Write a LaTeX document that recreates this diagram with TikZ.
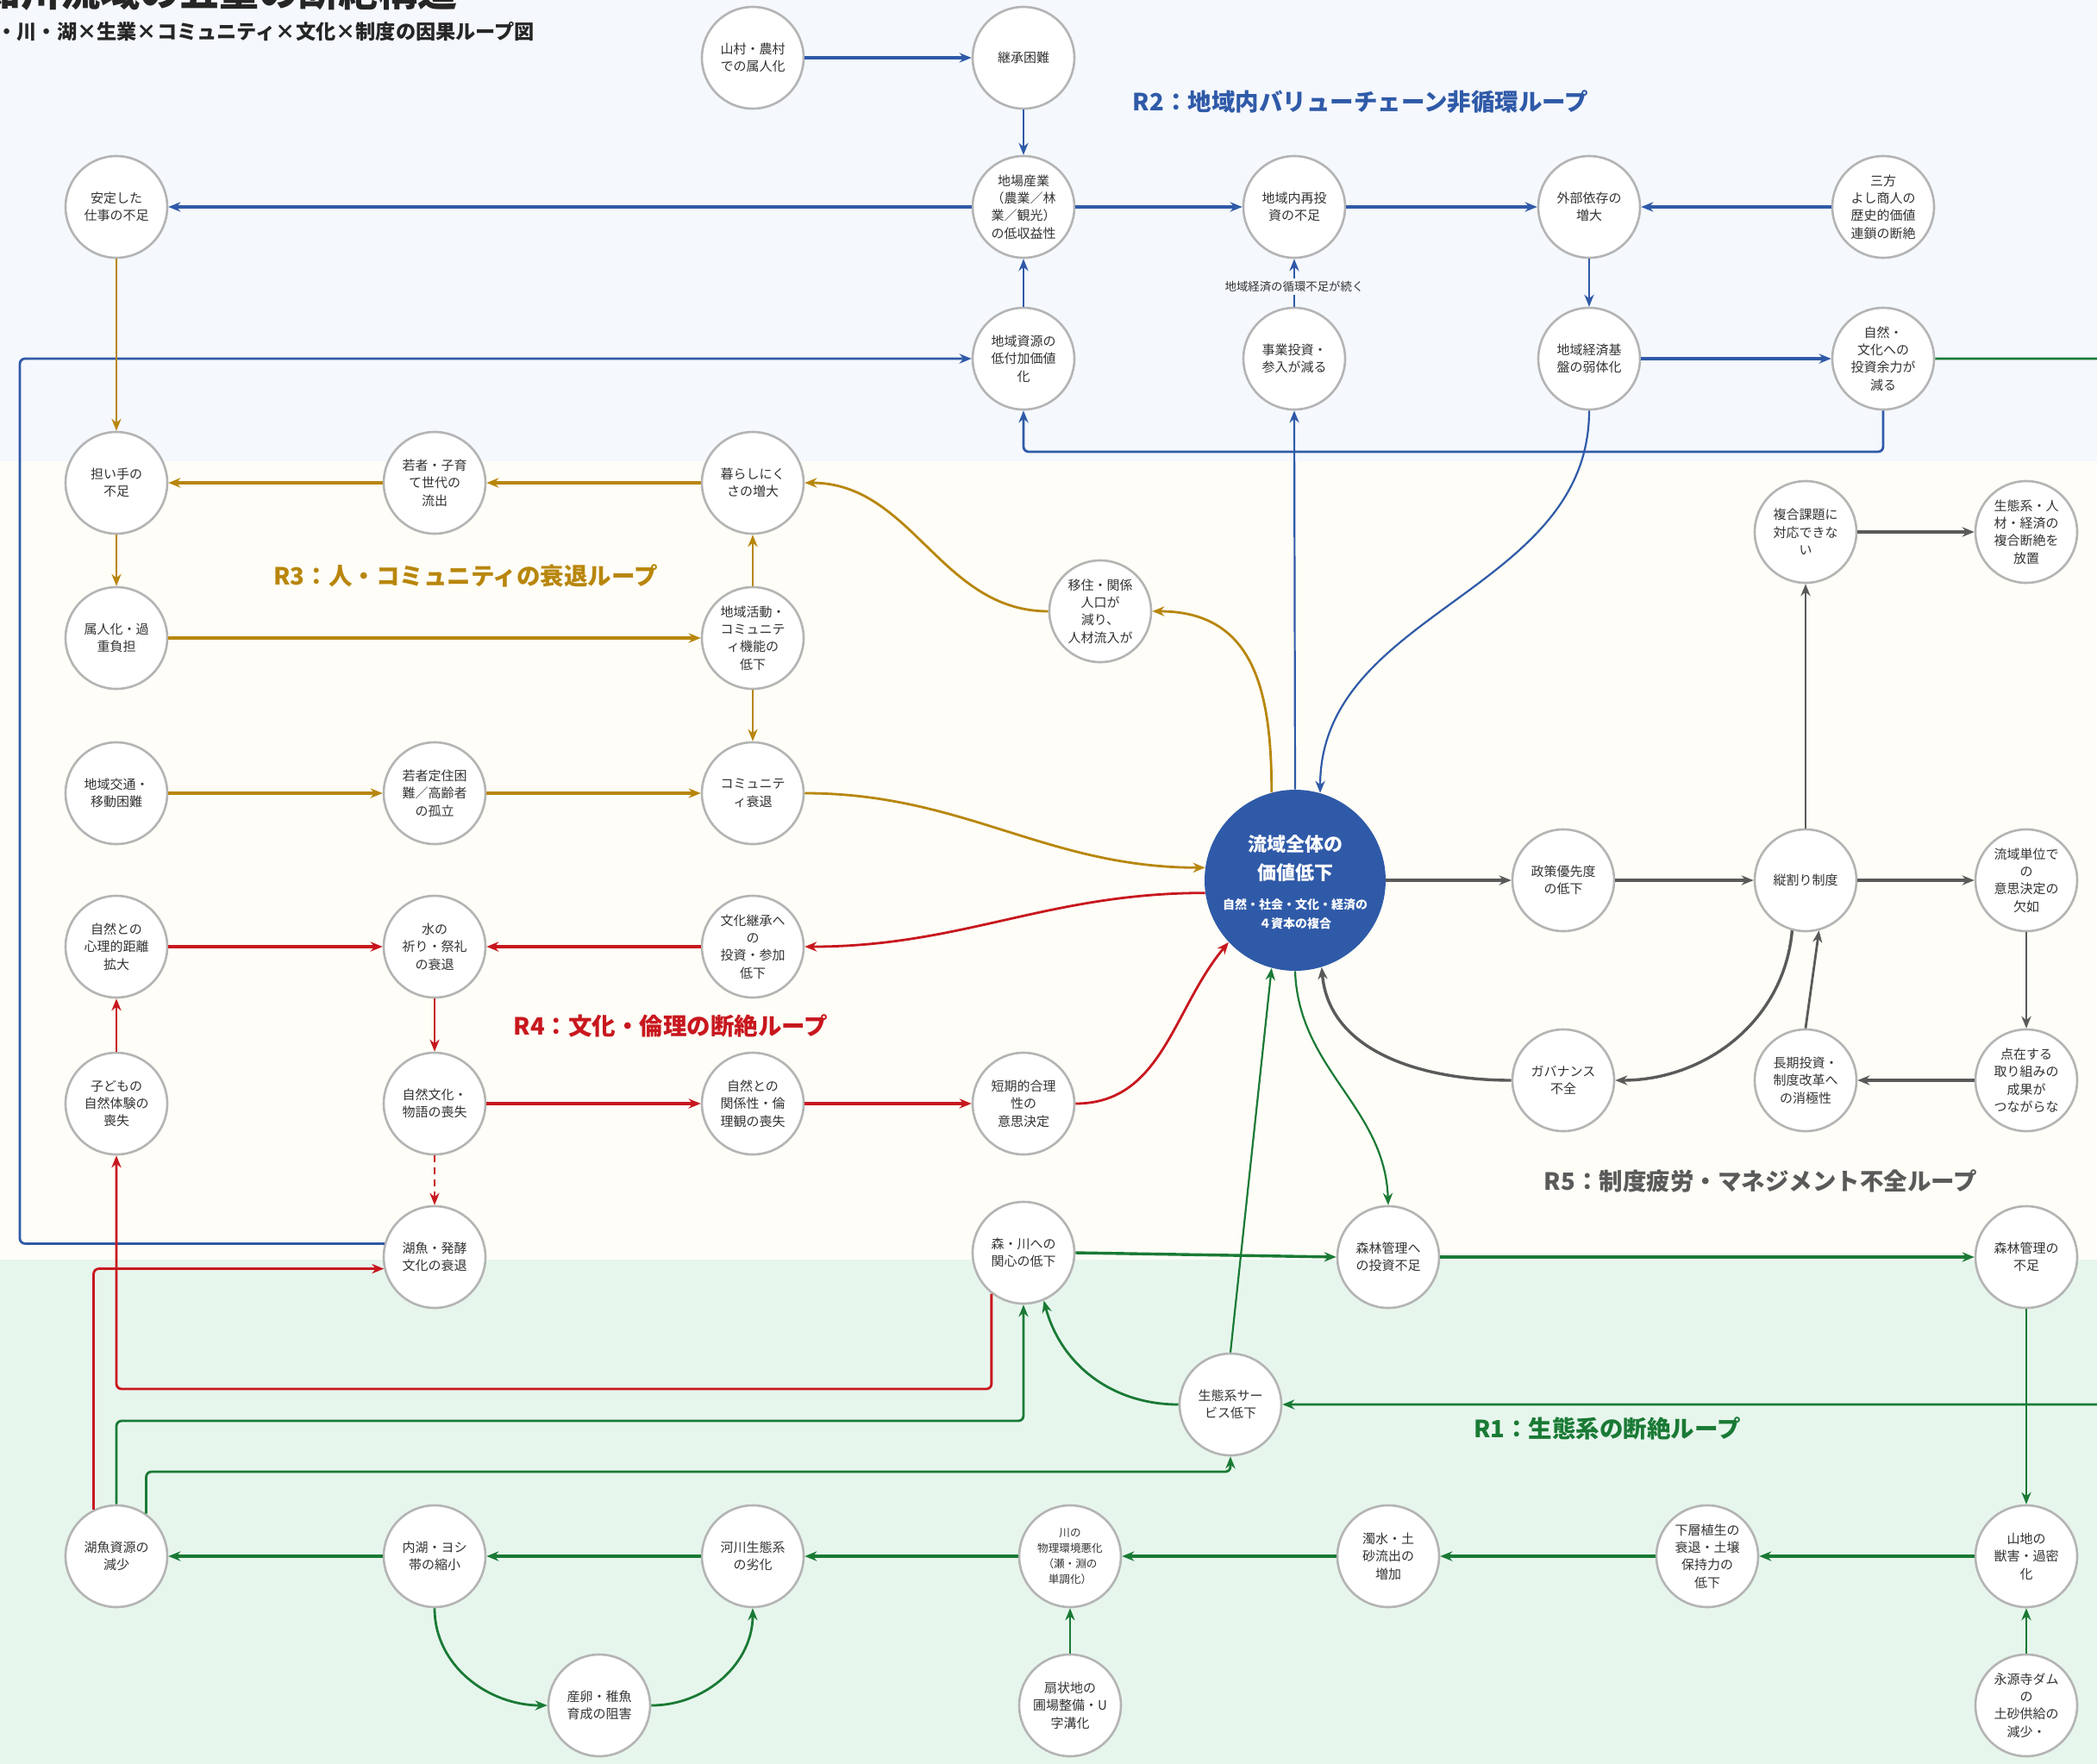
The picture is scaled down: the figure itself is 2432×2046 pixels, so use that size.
\documentclass[tikz,border=0pt]{standalone}
\usepackage{fontspec}
\setmainfont{Noto Sans CJK JP}
\usetikzlibrary{arrows.meta}
\definecolor{bgtop}{HTML}{F5F8FD}
\definecolor{bgmid}{HTML}{FEFDF7}
\definecolor{bgbot}{HTML}{E7F6ED}
\definecolor{cblue}{HTML}{2F5AA8}
\definecolor{cgold}{HTML}{B8860B}
\definecolor{cred}{HTML}{C8171E}
\definecolor{cgray}{HTML}{5A5A5A}
\definecolor{cgreen}{HTML}{1A7A35}
\definecolor{ndborder}{HTML}{B4B4B4}
\definecolor{ndtext}{HTML}{333333}
\begin{document}
\begin{tikzpicture}[x=0.5pt,y=0.5pt,
  >={Stealth[length=7pt,width=5.6pt]},
  nd/.style={circle, draw=ndborder, line width=1.3pt, fill=white, minimum size=59pt, inner sep=-10pt, align=center, text=ndtext, font=\fontsize{7.5pt}{10.2pt}\selectfont},
  smnd/.style={nd, font=\fontsize{6.3pt}{9pt}\selectfont},
  ln/.style={->, line width=1.1pt},
  lnm/.style={->, line width=1.4pt},
  lnt/.style={->, line width=1.7pt},
  lnx/.style={->, line width=2.4pt},
  loopl/.style={font=\fontsize{13.75pt}{16pt}\selectfont\bfseries},
  rc/.style={rounded corners=3pt}
]
\useasboundingbox (0,0) rectangle (2432,-2046);
\fill[bgtop] (0,0) rectangle (2432,-535);
\fill[bgmid] (0,-535) rectangle (2432,-1461);
\fill[bgbot] (0,-1461) rectangle (2432,-2046);

\coordinate (yb) at (0,-524);
\coordinate (bl) at (23,0);
\coordinate (offr) at (2520,0);
\coordinate (ry2) at (0,-1611);
\coordinate (gy1) at (0,-1648);
\coordinate (gy2) at (0,-1707);

% titles
\node[anchor=base west, font=\fontsize{23pt}{26pt}\selectfont\bfseries, text=black!85] (title) at (-29,-7) {知川流域の五重の断絶構造};
\node[anchor=west, inner sep=0pt, font=\fontsize{11.6pt}{14pt}\selectfont\bfseries, text=black!85] (subtitle) at (-4,-37) {・川・湖×生業×コミュニティ×文化×制度の因果ループ図};

% R2 nodes
\node[nd] (yam) at (873,-67) {山村・農村\\での属人化};
\node[nd] (keisho) at (1187,-67) {継承困難};
\node[nd] (antei) at (135,-240) {安定した\\仕事の不足};
\node[nd] (jiba) at (1187,-240) {地場産業\\（農業／林\\業／観光）\\の低収益性};
\node[nd] (saito) at (1501,-240) {地域内再投\\資の不足};
\node[nd] (gaibu) at (1843,-240) {外部依存の\\増大};
\node[nd] (sanpo) at (2184,-240) {三方\\よし商人の\\歴史的価値\\連鎖の断絶};
\node[nd] (shigen) at (1187,-416) {地域資源の\\低付加価値\\化};
\node[nd] (jigyo) at (1501,-416) {事業投資・\\参入が減る};
\node[nd] (keizai) at (1843,-416) {地域経済基\\盤の弱体化};
\node[nd] (sinv) at (2184,-416) {自然・\\文化への\\投資余力が\\減る};

% R3 nodes
\node[nd] (ninaite) at (135,-560) {担い手の\\不足};
\node[nd] (wakamono) at (504,-560) {若者・子育\\て世代の\\流出};
\node[nd] (kura) at (873,-560) {暮らしにく\\さの増大};
\node[nd] (mig) at (1276,-709) {移住・関係\\人口が\\減り、\\人材流入が};
\node[nd] (zokujin) at (135,-740) {属人化・過\\重負担};
\node[nd] (chiiki) at (873,-740) {地域活動・\\コミュニテ\\ィ機能の\\低下};
\node[nd] (kotsu) at (135,-920) {地域交通・\\移動困難};
\node[nd] (teiju) at (504,-920) {若者定住困\\難／高齢者\\の孤立};
\node[nd] (comm) at (873,-920) {コミュニテ\\ィ衰退};

% center
\node[circle, fill=cblue, minimum size=105pt, inner sep=0pt] (c) at (1502,-1021) {};
\node[align=center, text=white, font=\fontsize{11pt}{16.5pt}\selectfont\bfseries] (ct1) at (1502,-996) {流域全体の\\価値低下};
\node[align=center, text=white, font=\fontsize{7pt}{10.8pt}\selectfont\bfseries] (ct2) at (1502,-1060) {自然・社会・文化・経済の\\４資本の複合};

% R5 nodes
\node[nd] (seisaku) at (1813,-1021) {政策優先度\\の低下};
\node[nd] (tate) at (2094,-1021) {縦割り制度};
\node[nd] (ryuiki) at (2350,-1021) {流域単位で\\の\\意思決定の\\欠如};
\node[nd] (fukugo) at (2094,-617) {複合課題に\\対応できな\\い};
\node[nd] (hochi) at (2350,-617) {生態系・人\\材・経済の\\複合断絶を\\放置};
\node[nd] (gov) at (1813,-1253) {ガバナンス\\不全};
\node[nd] (choki) at (2094,-1253) {長期投資・\\制度改革へ\\の消極性};
\node[nd] (tenzai) at (2350,-1253) {点在する\\取り組みの\\成果が\\つながらな};

% R4 nodes
\node[nd] (shinri) at (135,-1098) {自然との\\心理的距離\\拡大};
\node[nd] (inori) at (504,-1098) {水の\\祈り・祭礼\\の衰退};
\node[nd] (bunka) at (873,-1098) {文化継承へ\\の\\投資・参加\\低下};
\node[nd] (kodomo) at (135,-1280) {子どもの\\自然体験の\\喪失};
\node[nd] (sbunka) at (504,-1280) {自然文化・\\物語の喪失};
\node[nd] (kankei) at (873,-1280) {自然との\\関係性・倫\\理観の喪失};
\node[nd] (tanki) at (1187,-1280) {短期的合理\\性の\\意思決定};

% row I
\node[nd] (kogyo) at (504,-1458) {湖魚・発酵\\文化の衰退};
\node[nd] (mori) at (1187,-1453) {森・川への\\関心の低下};
\node[nd] (finv) at (1610,-1458) {森林管理へ\\の投資不足};
\node[nd] (shinrin) at (2350,-1458) {森林管理の\\不足};
\node[nd] (eco) at (1427,-1629) {生態系サー\\ビス低下};

% R1 nodes
\node[nd] (kgs) at (135,-1805) {湖魚資源の\\減少};
\node[nd] (naiko) at (504,-1805) {内湖・ヨシ\\帯の縮小};
\node[nd] (kasen) at (873,-1805) {河川生態系\\の劣化};
\node[smnd] (kawa) at (1241,-1805) {川の\\物理環境悪化\\（瀬・淵の\\単調化）};
\node[nd] (dakusui) at (1610,-1805) {濁水・土\\砂流出の\\増加};
\node[nd] (kaso) at (1980,-1805) {下層植生の\\衰退・土壌\\保持力の\\低下};
\node[nd] (sanchi) at (2350,-1805) {山地の\\獣害・過密\\化};
\node[nd] (sanran) at (695,-1978) {産卵・稚魚\\育成の阻害};
\node[nd] (senjo) at (1241,-1978) {扇状地の\\圃場整備・U\\字溝化};
\node[nd] (eigen) at (2350,-1978) {永源寺ダム\\の\\土砂供給の\\減少・};

% loop labels
\node[loopl, text=cblue] (r2) at (1578,-118) {R2：地域内バリューチェーン非循環ループ};
\node[loopl, text=cgold] (r3) at (540,-668) {R3：人・コミュニティの衰退ループ};
\node[loopl, text=cred] (r4) at (778,-1190) {R4：文化・倫理の断絶ループ};
\node[loopl, text=cgray] (r5) at (2042,-1370) {R5：制度疲労・マネジメント不全ループ};
\node[loopl, text=cgreen] (r1) at (1864,-1657) {R1：生態系の断絶ループ};

% R2 edges
\draw[lnt,cblue] (yam) -- (keisho);
\draw[ln,cblue] (keisho) -- (jiba);
\draw[ln,cblue] (shigen) -- (jiba);
\draw[lnt,cblue] (jiba) -- (antei);
\draw[lnt,cblue] (jiba) -- (saito);
\draw[lnt,cblue] (saito) -- (gaibu);
\draw[lnt,cblue] (sanpo) -- (gaibu);
\draw[ln,cblue] (gaibu) -- (keizai);
\draw[ln,cblue] (jigyo) -- (saito) node[pos=0.42, fill=bgtop, inner sep=1.5pt, text=ndtext, font=\fontsize{6.7pt}{8pt}\selectfont] (elab) {地域経済の循環不足が続く};
\draw[lnt,cblue] (keizai) -- (sinv);
\draw[lnm,cblue,rc] (sinv.south) -- (sinv.south |- yb) -- (shigen.south |- yb) -- (shigen.south);
\draw[ln,cblue] (c.north) -- (jigyo.south);
\draw[ln,cblue] (keizai.south) to[out=-90,in=90] (c.74);
\draw[lnm,cblue,rc] (kogyo.165) -- (kogyo.165 -| bl) -- (bl |- shigen.west) -- (shigen.west);
\draw[lnm,cgreen,rc] (sinv.east) -- (sinv.east -| offr) -- (offr |- eco.east) -- (eco.east);

% R3 edges
\draw[ln,cgold] (antei) -- (ninaite);
\draw[lnt,cgold] (wakamono) -- (ninaite);
\draw[lnt,cgold] (kura) -- (wakamono);
\draw[ln,cgold] (ninaite) -- (zokujin);
\draw[lnt,cgold] (zokujin) -- (chiiki);
\draw[ln,cgold] (chiiki) -- (kura);
\draw[ln,cgold] (chiiki) -- (comm);
\draw[lnt,cgold] (kotsu) -- (teiju);
\draw[lnt,cgold] (teiju) -- (comm);
\draw[lnm,cgold] (comm.east) to[out=0,in=180] (c.172);
\draw[lnm,cgold] (c.105) to[out=90,in=0,looseness=1.2] (mig.east);
\draw[lnm,cgold] (mig.west) to[out=180,in=0] (kura.east);

% R4 edges
\draw[lnt,cred] (shinri) -- (inori);
\draw[lnt,cred] (bunka) -- (inori);
\draw[ln,cred] (inori) -- (sbunka);
\draw[ln,cred] (kodomo) -- (shinri);
\draw[lnt,cred] (sbunka) -- (kankei);
\draw[lnt,cred] (kankei) -- (tanki);
\draw[ln,cred,dash pattern=on 4pt off 3pt] (sbunka) -- (kogyo);
\draw[lnm,cred] (c.188) to[out=180,in=0] (bunka.east);
\draw[lnm,cred] (tanki.east) to[out=0,in=230] (c.223);
\draw[lnm,cred,rc] (kgs.116) |- (kogyo.193);
\draw[lnm,cred,rc] (mori.232) -- (mori.232 |- ry2) -- (kodomo.south |- ry2) -- (kodomo.south);

% R5 edges
\draw[lnt,cgray] (c.east) -- (seisaku.west);
\draw[lnt,cgray] (seisaku) -- (tate);
\draw[lnt,cgray] (tate) -- (ryuiki);
\draw[lnm,cgray] (tate) -- (fukugo);
\draw[lnt,cgray] (fukugo) -- (hochi);
\draw[lnm,cgray] (ryuiki) -- (tenzai);
\draw[lnx,cgray] (tenzai) -- (choki);
\draw[lnm,cgray] (choki.north) -- (tate.285);
\draw[lnt,cgray] (tate.255) to[out=-95,in=0] (gov.east);
\draw[lnt,cgray] (gov.west) to[out=180,in=-85] (c.-73);

% R1 edges
\draw[lnt,cgreen] (mori.east) -- (finv.west);
\draw[lnt,cgreen] (finv) -- (shinrin);
\draw[ln,cgreen] (shinrin) -- (sanchi);
\draw[lnt,cgreen] (sanchi) -- (kaso);
\draw[lnt,cgreen] (kaso) -- (dakusui);
\draw[lnt,cgreen] (dakusui) -- (kawa);
\draw[lnt,cgreen] (kawa) -- (kasen);
\draw[lnt,cgreen] (kasen) -- (naiko);
\draw[lnt,cgreen] (naiko) -- (kgs);
\draw[lnm,cgreen] (senjo) -- (kawa);
\draw[lnm,cgreen] (eigen) -- (sanchi);
\draw[lnm,cgreen] (naiko.south) to[out=-90,in=180] (sanran.west);
\draw[lnm,cgreen] (sanran.east) to[out=0,in=-90] (kasen.south);
\draw[ln,cgreen] (eco.north) -- (c.255);
\draw[ln,cgreen] (c.270) to[out=-88,in=92] (finv.north);
\draw[lnm,cgreen] (eco.west) to[out=180,in=-75] (mori.-67);
\draw[lnm,cgreen,rc] (kgs.north) -- (kgs.north |- gy1) -- (mori.south |- gy1) -- (mori.south);
\draw[lnm,cgreen,rc] (kgs.55) -- (kgs.55 |- gy2) -- (eco.south |- gy2) -- (eco.south);
\end{tikzpicture}
\end{document}
